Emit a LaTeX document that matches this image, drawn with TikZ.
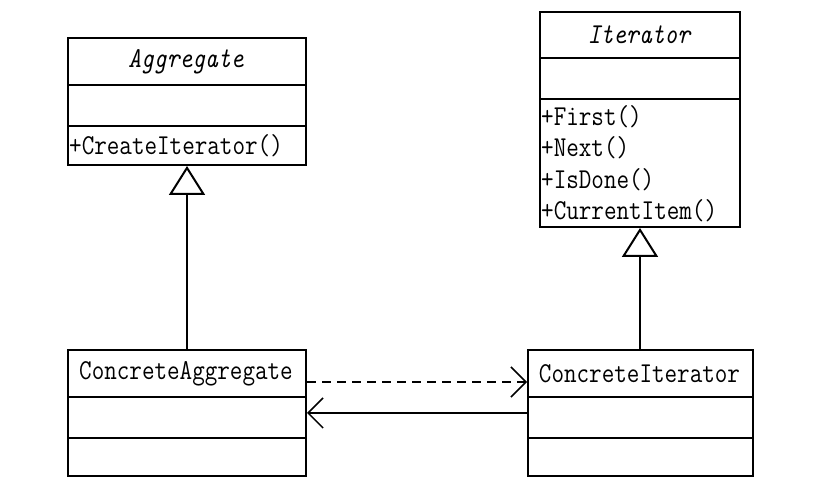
\documentclass[tikz,border=0pt]{standalone}
\usetikzlibrary{arrows.meta}
\newcommand{\tall}[1]{\scalebox{1}[1.18]{#1}}
\begin{document}
\begin{tikzpicture}[x=1pt,y=1pt,
  cls/.style={draw,line width=2pt,rectangle,inner sep=0pt,anchor=south west},
  sep/.style={line width=2pt},
  txt/.style={font=\fontsize{24.4}{26}\selectfont\ttfamily,inner sep=0pt},
  itxt/.style={txt,font=\fontsize{24.4}{26}\selectfont\ttfamily\itshape},
  mtxt/.style={txt,anchor=west},
  inherit/.style={line width=1.5pt,-{Triangle[open,length=29pt,width=36pt,line width=2pt]}},
  assoc/.style={line width=1.5pt,-{Straight Barb[length=15pt,width=30pt,line width=1.5pt]}},
  dep/.style={assoc,dash pattern=on 9pt off 6pt}]
\useasboundingbox (0,0) rectangle (831,490);
% Aggregate
\node[cls,minimum width=238pt,minimum height=127pt] (agg) at (67,324) {};
\draw[sep] (67,405) -- (305,405) (67,364) -- (305,364);
\node[itxt] (aggt) at (186,428) {\tall{Aggregate}};
\node[mtxt] (aggm) at (69,344) {\tall{+CreateIterator()}};
% Iterator
\node[cls,minimum width=200pt,minimum height=215pt] (it) at (539,262) {};
\draw[sep] (539,432) -- (739,432) (539,391) -- (739,391);
\node[itxt] (itt) at (639,455) {\tall{Iterator}};
\node[mtxt] (itm1) at (541,373) {\tall{+First()}};
\node[mtxt] (itm2) at (541,342) {\tall{+Next()}};
\node[mtxt] (itm3) at (541,310) {\tall{+IsDone()}};
\node[mtxt] (itm4) at (541,279) {\tall{+CurrentItem()}};
% ConcreteAggregate
\node[cls,minimum width=238pt,minimum height=126pt] (ca) at (67,13) {};
\draw[sep] (67,93) -- (305,93) (67,52) -- (305,52);
\node[txt] (cat) at (186,116) {\tall{ConcreteAggregate}};
% ConcreteIterator
\node[cls,minimum width=225pt,minimum height=126pt] (ci) at (527,13) {};
\draw[sep] (527,93) -- (752,93) (527,52) -- (752,52);
\node[txt] (cit) at (639.5,116) {\tall{ConcreteIterator}};
% connectors
\draw[inherit] (ca.north) -- (ca.north |- agg.south);
\draw[inherit] (it.south |- ci.north) -- (it.south);
\draw[dep] ([yshift=31pt]ca.east) -- ([yshift=31pt]ci.west);
\draw[assoc] (ci.west) -- (ca.east);
\end{tikzpicture}
\end{document}
